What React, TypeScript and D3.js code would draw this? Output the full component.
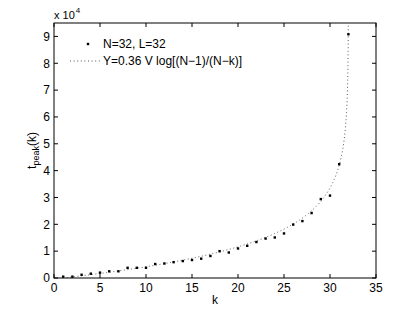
import React from "react";
import * as d3 from "d3";

// data (values in units of 1e4)
const kValues = [1,2,3,4,5,6,7,8,9,10,11,12,13,14,15,16,17,18,19,20,21,22,23,24,25,26,27,28,29,30,31,32];
const tPeak = [0.05,0.05,0.12,0.16,0.2,0.25,0.25,0.38,0.38,0.38,0.52,0.54,0.59,0.63,0.67,0.72,0.82,1.0,0.95,1.1,1.2,1.34,1.47,1.51,1.66,1.99,2.12,2.42,2.94,3.07,4.24,9.08];
const xTicks = [0,5,10,15,20,25,30,35];
const yTicks = [0,1,2,3,4,5,6,7,8,9];
const N = 32;
const V = 34000;
const fitCoef = 0.36;
const legendLabels = ["N=32, L=32", "Y=0.36 V log[(N\u22121)/(N\u2212k)]"];

const W = 415, H = 312;
const M = { left: 54, right: 376, top: 23, bottom: 278 };
const FONT = "'Liberation Sans', Arial, Helvetica, sans-serif";

export default function App() {
  const x = d3.scaleLinear().domain([0, 35]).range([M.left, M.right]);
  const y = d3.scaleLinear().domain([0, 9.5]).range([M.bottom, M.top]);

  // fit curve from the stated formula
  const ks: number[] = [];
  for (let k = 1; k < 31.9; k += 0.05) ks.push(k);
  for (let t = 1; t <= 3; t += 0.02) ks.push(N - Math.pow(10, -t));
  const curve = ks.map((k) => [k, (fitCoef * V * Math.log((N - 1) / (N - k))) / 1e4] as [number, number]);
  const line = d3.line<[number, number]>().x((d) => x(d[0])).y((d) => y(d[1]));

  const tl = 4;
  return (
    <svg width={W} height={H} style={{ position: "absolute", left: 0, top: 0, background: "#fff" }} fontFamily={FONT}>
      <defs>
        <clipPath id="plotclip">
          <rect x={M.left} y={M.top} width={M.right - M.left} height={M.bottom - M.top} />
        </clipPath>
      </defs>
      <rect x={0} y={0} width={W} height={H} fill="#fff" />
      {/* fit curve */}
      <path d={line(curve) || ""} fill="none" stroke="#555" strokeWidth={1} strokeDasharray="1 2.6" clipPath="url(#plotclip)" />
      {/* points */}
      {kValues.map((k, i) => (
        <rect key={k} x={x(k) - 1.2} y={y(tPeak[i]) - 1.2} width={2.4} height={2.4} fill="#000" />
      ))}
      {/* axes box */}
      <rect x={M.left} y={M.top} width={M.right - M.left} height={M.bottom - M.top} fill="none" stroke="#000" strokeWidth={1} />
      {xTicks.map((t) => (
        <g key={"x" + t}>
          <line x1={x(t)} x2={x(t)} y1={M.bottom} y2={M.bottom - tl} stroke="#000" />
          <line x1={x(t)} x2={x(t)} y1={M.top} y2={M.top + tl} stroke="#000" />
          <text x={x(t)} y={292} fontSize={12} textAnchor="middle">{t}</text>
        </g>
      ))}
      {yTicks.map((t) => (
        <g key={"y" + t}>
          <line x1={M.left} x2={M.left + tl} y1={y(t)} y2={y(t)} stroke="#000" />
          <line x1={M.right} x2={M.right - tl} y1={y(t)} y2={y(t)} stroke="#000" />
          <text x={50} y={y(t)} dy="0.36em" fontSize={12} textAnchor="end">{t}</text>
        </g>
      ))}
      {/* exponent */}
      <text x={54} y={19} fontSize={11}>x 10<tspan fontSize={8} dx={1} dy={-6}>4</tspan></text>
      {/* axis labels */}
      <text x={(M.left + M.right) / 2} y={304} fontSize={12} textAnchor="middle">k</text>
      <text transform={`translate(36, ${(M.top + M.bottom) / 2}) rotate(-90)`} fontSize={12} textAnchor="middle">
        t<tspan fontSize={9} dy={3}>peak</tspan><tspan dy={-3}>(k)</tspan>
      </text>
      {/* legend */}
      <rect x={88 - 1.2} y={44 - 1.2} width={2.4} height={2.4} fill="#000" />
      <text x={103} y={44} dy="0.36em" fontSize={12}>{legendLabels[0]}</text>
      <line x1={70} x2={101} y1={61} y2={61} stroke="#555" strokeWidth={1} strokeDasharray="1 2.6" />
      <text x={103} y={61} dy="0.36em" fontSize={12}>{legendLabels[1]}</text>
    </svg>
  );
}
